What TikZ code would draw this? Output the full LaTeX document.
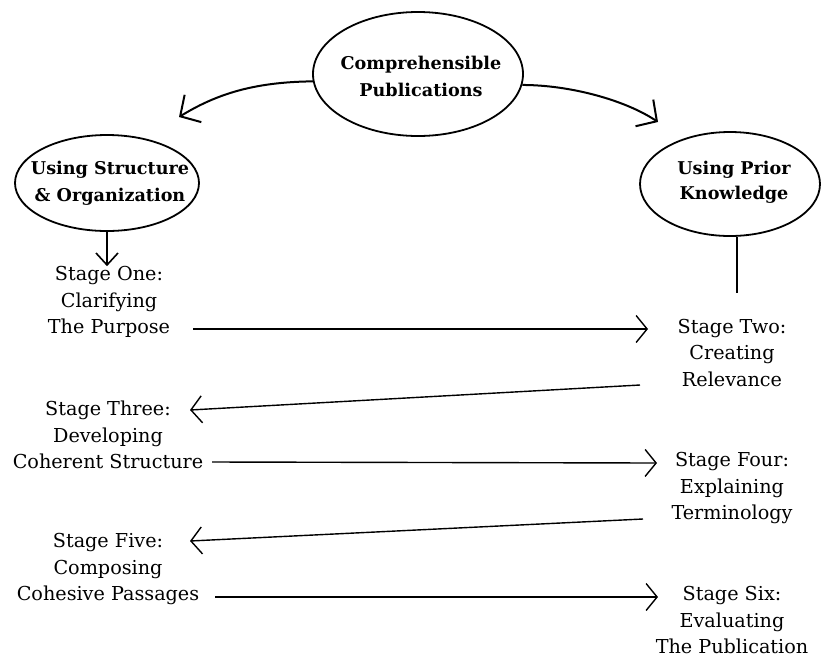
\documentclass[tikz,border=0pt]{standalone}
\usepackage{fontspec}
\setmainfont{DejaVu Serif}
\usetikzlibrary{arrows.meta,shapes.geometric}
\begin{document}
\begin{tikzpicture}[x=1pt,y=-1pt,
  ellbox/.style={ellipse,draw,line width=1.8pt,inner sep=0pt},
  elltext/.style={align=center,inner sep=0pt,font=\bfseries\fontsize{17.6}{27}\selectfont},
  stagetext/.style={align=center,inner sep=0pt,font=\fontsize{19.2}{26.5}\selectfont},
  arcarrow/.style={line width=2pt,-{Straight Barb[length=15pt,width=32pt]}},
  linkarrow/.style={line width=1.4pt,-{Straight Barb[length=11pt,width=27pt]}},
  downarrow/.style={line width=1.6pt,-{Straight Barb[length=12pt,width=22pt]}},
  plainline/.style={line width=1.6pt}]
\useasboundingbox (0,0) rectangle (822,657);

% ellipses
\node[ellbox,minimum width=210pt,minimum height=124pt] (top) at (418,74) {};
\node[elltext] (toptext) at (421,76) {Comprehensible\\Publications};
\node[ellbox,minimum width=184pt,minimum height=96pt] (lefte) at (107,183) {};
\node[elltext] (lefttext) at (110,183) {Using Structure\\\& Organization};
\node[ellbox,minimum width=180pt,minimum height=104pt] (righte) at (730,184) {};
\node[elltext,font=\bfseries\fontsize{17.6}{25}\selectfont] (righttext) at (734,182) {Using Prior\\Knowledge};

% stages
\node[stagetext] (s1) at (109,302) {Stage One:\\Clarifying\\The Purpose};
\node[stagetext] (s2) at (732,353) {Stage Two:\\Creating\\Relevance};
\node[stagetext] (s3) at (108,435) {Stage Three:\\Developing\\Coherent Structure};
\node[stagetext] (s4) at (732,488) {Stage Four:\\Explaining\\Terminology};
\node[stagetext] (s5) at (108,569) {Stage Five:\\Composing\\Cohesive Passages};
\node[stagetext] (s6) at (732,620) {Stage Six:\\Evaluating\\The Publication};

% top arcs
\coordinate (ltip) at (179,117);
\coordinate (rtip) at (658,122);
\draw[arcarrow] (top.184) .. controls (252,82) and (215,95) .. (ltip);
\draw[arcarrow] (top.354) .. controls (570,85) and (625,100) .. (rtip);

% ellipse to stages
\draw[downarrow] (lefte.south) -- (lefte.south |- s1.north);
\coordinate (pkend) at (737,293);
\draw[plainline] ([xshift=7pt]righte.south) -- (pkend);

% stage links
\draw[linkarrow] ([shift={(84,27)}]s1.center) -- ([shift={(-84,-24)}]s2.center);
\draw[linkarrow] ([shift={(-92,32)}]s2.center) -- ([shift={(82,-25)}]s3.center);
\draw[linkarrow] ([shift={(104,27)}]s3.center) -- ([shift={(-75,-25)}]s4.center);
\draw[linkarrow] ([shift={(-89,31)}]s4.center) -- ([shift={(82,-28)}]s5.center);
\draw[linkarrow] ([shift={(107,28)}]s5.center) -- ([shift={(-74,-23)}]s6.center);
\end{tikzpicture}
\end{document}
